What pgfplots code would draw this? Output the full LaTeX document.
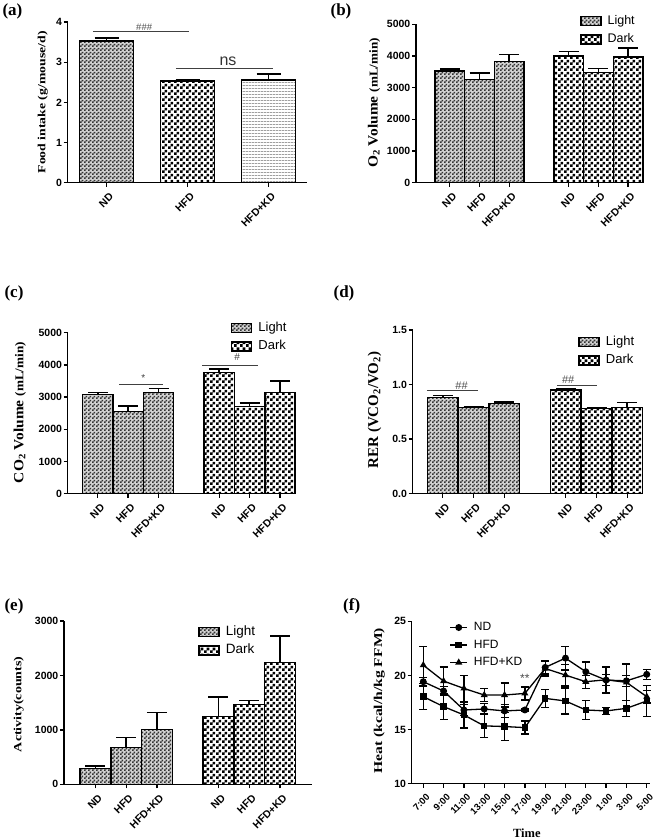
\documentclass[border=0pt]{standalone}
\usepackage{fontspec}
\setmainfont{Liberation Serif}
\setsansfont{Liberation Sans}
\usepackage{graphicx}
\usepackage{pgfplots}
\pgfplotsset{compat=1.18}
\usetikzlibrary{patterns}

\pgfdeclarepatternformonly{lightchk}{\pgfpointorigin}{\pgfqpoint{4pt}{4pt}}{\pgfqpoint{4pt}{4pt}}{%
  \pgfpathrectangle{\pgfpointorigin}{\pgfqpoint{2pt}{2pt}}%
  \pgfpathrectangle{\pgfqpoint{2pt}{2pt}}{\pgfqpoint{2pt}{2pt}}%
  \pgfusepath{fill}}
\pgfdeclarepatternformonly{darkchk}{\pgfpointorigin}{\pgfqpoint{6pt}{6pt}}{\pgfqpoint{6pt}{6pt}}{%
  \pgfpathrectangle{\pgfpointorigin}{\pgfqpoint{3pt}{3pt}}%
  \pgfpathrectangle{\pgfqpoint{3pt}{3pt}}{\pgfqpoint{3pt}{3pt}}%
  \pgfusepath{fill}}
\pgfdeclarepatternformonly{hlinesg}{\pgfpointorigin}{\pgfqpoint{3pt}{3pt}}{\pgfqpoint{3pt}{3pt}}{%
  \pgfpathrectangle{\pgfpointorigin}{\pgfqpoint{3pt}{1pt}}%
  \pgfusepath{fill}}

\newcommand\tickfont{\sffamily\bfseries\fontsize{10.5}{12}\selectfont}
\newcommand\legfont{\sffamily\fontsize{12.5}{14}\selectfont}
\newcommand\panelfont{\bfseries\fontsize{17}{20}\selectfont}
\newcommand\sigfont{\sffamily\fontsize{10}{12}\selectfont}

\tikzset{sigline/.style={line width=0.8pt, black!75}}

\pgfplotsset{
  prism/.style={
    scale only axis, anchor=south west, clip=false,
    axis lines*=left,
    axis line style={line width=1.3pt, -},
    tick style={black, line width=1.3pt},
    tick align=outside, major tick length=4pt,
    /pgf/number format/assume math mode=true,
    /pgf/number format/1000 sep={},
    ticklabel style={font=\tickfont},
    yticklabel style={inner sep=1.5pt},
    xticklabel style={xshift=5pt, yshift=-8pt, rotate=45, anchor=east, inner sep=0pt},
    ylabel style={anchor=center, font=\bfseries},
    legend cell align=left,
    legend style={draw=none, fill=none, inner sep=0pt, anchor=west, font=\legfont,
      row sep=6pt,
      nodes={inner sep=1pt, text height=8.5pt, text depth=2pt},
      /tikz/every odd column/.append style={column sep=5pt}},
  },
  lgbox/.style={legend image code/.code={\draw[##1] (0pt,-4.5pt) rectangle (20pt,4.5pt);}},
  lightbar/.style={ybar, bar shift=0pt, bar width=#1, draw=black, line width=1.5pt,
    preaction={fill=gray!35}, pattern=lightchk, pattern color=black!80, lgbox},
  darkbar/.style={ybar, bar shift=0pt, bar width=#1, draw=black, line width=1.5pt,
    preaction={fill=white}, pattern=darkchk, pattern color=black, lgbox},
  linebar/.style={ybar, bar shift=0pt, bar width=#1, draw=black, line width=1.5pt,
    preaction={fill=white}, pattern=hlinesg, pattern color=gray!75, lgbox},
  errup/.style={error bars/y dir=plus, error bars/y explicit,
    error bars/error bar style={line width=1.6pt, black, solid},
    error bars/error mark options={rotate=90, mark size=#1, line width=1.6pt, black, solid}},
  errboth/.style={error bars/y dir=both, error bars/y explicit,
    error bars/error bar style={line width=1.3pt, black},
    error bars/error mark options={rotate=90, mark size=4pt, line width=1.3pt, black}},
}

\begin{document}
\begin{tikzpicture}

% ---------------- (a)
\begin{axis}[prism, at={(67.7pt,656.3pt)}, width=239.3pt, height=160.7pt,
  xmin=-0.48, xmax=2.475, ymin=0, ymax=4, ytick={0,1,2,3,4},
  xtick={0,1,2}, xticklabels={ND,HFD,HFD+KD},
  ylabel={\scalebox{1.25}[1]{\fontsize{11}{13}\selectfont Food intake (g/mouse/d)}},
  ylabel style={at={(axis description cs:-0.1045,0.5)}}]
\addplot[lightbar=0.667, errup=12pt] coordinates {(0,3.53) +- (0,0.07)};
\addplot[darkbar=0.667, errup=12pt] coordinates {(1,2.53) +- (0,0.02)};
\addplot[linebar=0.667, errup=12pt] coordinates {(2,2.56) +- (0,0.14)};
\draw[sigline] (axis cs:-0.17,3.76) -- (axis cs:1.02,3.76);
\node[font=\sffamily\fontsize{9.5}{11}\selectfont, text=black!70] at (axis cs:0.464,3.88) {\#\#\#};
\draw[sigline] (axis cs:0.855,2.846) -- (axis cs:2.05,2.846);
\node[font=\sffamily\fontsize{16}{18}\selectfont, text=black!80] at (axis cs:1.5,3.03) {ns};
\end{axis}

% ---------------- (b)
\begin{axis}[prism, at={(416pt,656.3pt)}, width=227pt, height=158.4pt,
  xmin=-1.136, xmax=6.5, ymin=0, ymax=5000, ytick={0,1000,...,5000},
  xtick={0,1,2,4,5,6}, xticklabels={ND,HFD,HFD+KD,ND,HFD,HFD+KD},
  ylabel={\scalebox{1.1}[1]{\fontsize{14}{16}\selectfont O\textsubscript{2} Volume \fontsize{12}{14}\selectfont(mL/min)}},
  ylabel style={at={(axis description cs:-0.185,0.503)}},
  legend style={at={(0.722,0.962)}}]
\addplot[lightbar=1, errup=10pt] coordinates {(0,3526) +- (0,63) (1,3252) +- (0,211) (2,3832) +- (0,209)};
\addlegendentry{Light}
\addplot[darkbar=1, errup=10pt] coordinates {(4,4000) +- (0,136) (5,3473) +- (0,126) (6,3968) +- (0,284)};
\addlegendentry{Dark}
\end{axis}

% ---------------- (c)
\begin{axis}[prism, at={(67.7pt,345.3pt)}, width=227.5pt, height=161pt,
  xmin=-0.99, xmax=6.5, ymin=0, ymax=5000, ytick={0,1000,...,5000},
  xtick={0,1,2,4,5,6}, xticklabels={ND,HFD,HFD+KD,ND,HFD,HFD+KD},
  ylabel={\scalebox{1.1}[1]{\fontsize{14}{16}\selectfont CO\textsubscript{2} Volume \fontsize{12}{14}\selectfont(mL/min)}},
  ylabel style={at={(axis description cs:-0.211,0.504)}},
  legend style={at={(0.7165,0.971)}, font=\sffamily\fontsize{13}{15}\selectfont}]
\addplot[lightbar=1, errup=10pt] coordinates {(0,3085) +- (0,52) (1,2547) +- (0,176) (2,3137) +- (0,134)};
\addlegendentry{Light}
\addplot[darkbar=1, errup=10pt] coordinates {(4,3758) +- (0,114) (5,2702) +- (0,124) (6,3137) +- (0,372)};
\addlegendentry{Dark}
\draw[sigline] (axis cs:0.71,3398) -- (axis cs:2.16,3398);
\node[font=\sigfont, text=black!75] at (axis cs:1.5,3600) {*};
\draw[sigline] (axis cs:3.44,3997) -- (axis cs:5.27,3997);
\node[font=\sigfont, text=black!75] at (axis cs:4.59,4230) {\#};
\end{axis}

% ---------------- (d)
\begin{axis}[prism, at={(412.7pt,345.3pt)}, width=229.9pt, height=163.7pt,
  xmin=-0.98, xmax=6.5, ymin=0, ymax=1.5, ytick={0,0.5,1,1.5},
  yticklabel style={/pgf/number format/.cd, fixed, fixed zerofill, precision=1},
  xtick={0,1,2,4,5,6}, xticklabels={ND,HFD,HFD+KD,ND,HFD,HFD+KD},
  ylabel={\fontsize{15}{17}\selectfont RER (VCO\textsubscript{2}/VO\textsubscript{2})},
  ylabel style={at={(axis description cs:-0.166,0.511)}},
  legend style={at={(0.72,0.871)}, font=\sffamily\fontsize{13}{15}\selectfont}]
\addplot[lightbar=1, errup=10pt] coordinates {(0,0.880) +- (0,0.018) (1,0.791) +- (0,0.006) (2,0.828) +- (0,0.012)};
\addlegendentry{Light}
\addplot[darkbar=1, errup=10pt] coordinates {(4,0.950) +- (0,0.012) (5,0.782) +- (0,0.006) (6,0.791) +- (0,0.043)};
\addlegendentry{Dark}
\draw[sigline] (axis cs:-0.52,0.944) -- (axis cs:1.16,0.944);
\node[font=\sffamily\fontsize{11}{13}\selectfont, text=black!70] at (axis cs:0.61,0.99) {\#\#};
\draw[sigline] (axis cs:3.71,0.993) -- (axis cs:5.01,0.993);
\node[font=\sffamily\fontsize{11}{13}\selectfont, text=black!70] at (axis cs:4.08,1.04) {\#\#};
\end{axis}

% ---------------- (e)
\begin{axis}[prism, at={(64pt,54.7pt)}, width=247.7pt, height=163.3pt,
  xmin=-1.02, xmax=7.03, ymin=0, ymax=3000, ytick={0,1000,2000,3000},
  xtick={0,1,2,4,5,6}, xticklabels={ND,HFD,HFD+KD,ND,HFD,HFD+KD},
  ylabel={\scalebox{1.27}[1]{\fontsize{11}{13}\selectfont Activity(counts)}},
  ylabel style={at={(axis description cs:-0.183,0.49)}},
  legend style={at={(0.542,0.8775)}, font=\sffamily\fontsize{13.5}{15}\selectfont}]
\addplot[lightbar=1, errup=10pt] coordinates {(0,294) +- (0,43) (1,680) +- (0,183) (2,1010) +- (0,307)};
\addlegendentry{Light}
\addplot[darkbar=1, errup=10pt] coordinates {(4,1243) +- (0,361) (5,1470) +- (0,73) (6,2235) +- (0,490)};
\addlegendentry{Dark}
\end{axis}

% ---------------- (f)
\begin{axis}[prism, at={(411.7pt,55.3pt)}, width=238.3pt, height=162.4pt,
  xmin=-0.57, xmax=11.16, ymin=10, ymax=25, ytick={10,15,20,25},
  xtick={0,...,11}, xticklabels={7:00,9:00,11:00,13:00,15:00,17:00,19:00,21:00,23:00,1:00,3:00,5:00},
  xticklabel style={font=\sffamily\bfseries\fontsize{9.5}{11}\selectfont},
  ylabel={\scalebox{1.3}[1]{\fontsize{12}{14}\selectfont Heat (kcal/h/kg FFM)}},
  ylabel style={at={(axis description cs:-0.136,0.51)}},
  xlabel={Time},
  xlabel style={at={(axis description cs:0.483,-0.304)}, anchor=center, font=\bfseries\fontsize{12.5}{14}\selectfont},
  legend style={at={(0.158,0.854)}, font=\sffamily\fontsize{12}{14}\selectfont, row sep=5pt}]
\addplot[black, line width=1.3pt, mark=*, mark size=2.8pt, mark options={solid}, errboth] coordinates {
 (0,19.42) +- (0,0.4) (1,18.56) +- (0,0.4) (2,16.81) +- (0,0.5) (3,16.90) +- (0,0.5)
 (4,16.72) +- (0,0.6) (5,16.81) +- (0,0.1) (6,20.74) +- (0,0.6) (7,21.6) +- (0,1.1)
 (8,20.34) +- (0,0.9) (9,19.57) +- (0,1.2) (10,19.50) +- (0,0.5) (11,20.10) +- (0,0.45)};
\addlegendentry{ND}
\addplot[black, line width=1.3pt, mark=square*, mark size=2.6pt, mark options={solid}, errboth] coordinates {
 (0,18.04) +- (0,1.2) (1,17.12) +- (0,1.2) (2,16.35) +- (0,1.2) (3,15.34) +- (0,1.1)
 (4,15.28) +- (0,1.3) (5,15.18) +- (0,0.6) (6,17.88) +- (0,0.85) (7,17.64) +- (0,1.2)
 (8,16.81) +- (0,0.9) (9,16.72) +- (0,0.35) (10,16.96) +- (0,0.75) (11,17.64) +- (0,1.45)};
\addlegendentry{HFD}
\addplot[black, line width=1.3pt, mark=triangle*, mark size=2.8pt, mark options={solid}, errboth] coordinates {
 (0,20.95) +- (0,1.7) (1,19.48) +- (0,1.3) (2,18.80) +- (0,1.2) (3,18.19) +- (0,0.6)
 (4,18.19) +- (0,1.1) (5,18.34) +- (0,0.6) (6,20.64) +- (0,0.7) (7,20.03) +- (0,1.0)
 (8,19.42) +- (0,0.6) (9,19.60) +- (0,0.5) (10,19.36) +- (0,1.7) (11,18.04) +- (0,0.6)};
\addlegendentry{HFD+KD}
\node[font=\sffamily\fontsize{12}{14}\selectfont, text=black!70] at (axis cs:5.0,19.75) {**};
\end{axis}

\node[font=\panelfont] at (12.5pt,827.3pt) {(a)};
\node[font=\panelfont] at (341pt,828pt) {(b)};
\node[font=\panelfont] at (14pt,545.3pt) {(c)};
\node[font=\panelfont] at (344pt,545.3pt) {(d)};
\node[font=\panelfont] at (14pt,232.3pt) {(e)};
\node[font=\panelfont] at (351.7pt,232.3pt) {(f)};

\pgfresetboundingbox
\useasboundingbox (0pt,0pt) rectangle (660pt,839pt);
\end{tikzpicture}
\end{document}
